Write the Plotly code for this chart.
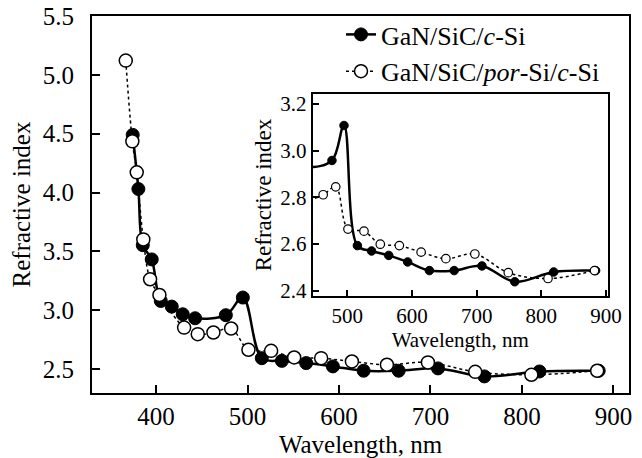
import plotly.graph_objects as go

# Data
wl_cSi = [374.5, 380.7, 385.5, 395.3, 405.2, 417.2, 429.2, 442.7, 476.3, 494.9,
          515.6, 537.5, 564.1, 593.3, 626.9, 665.2, 708.2, 758.9, 819.1, 883.9]
n_cSi = [4.49, 4.03, 3.553, 3.432, 3.079, 3.031, 2.966, 2.932, 2.958, 3.108,
         2.593, 2.570, 2.551, 2.523, 2.486, 2.486, 2.506, 2.438, 2.480, 2.486]

wl_por = [366.9, 374.1, 378.9, 386.1, 393.5, 403.7, 430.7, 445.6, 462.7, 482.1,
          501.0, 525.8, 551.0, 580.5, 614.1, 652.4, 697.2, 748.9, 810.3, 882.2]
n_por = [5.121, 4.435, 4.172, 3.602, 3.263, 3.130, 2.853, 2.797, 2.811, 2.845,
         2.664, 2.655, 2.599, 2.593, 2.565, 2.537, 2.557, 2.477, 2.452, 2.486]

name_cSi = "GaN/SiC/<i>c</i>-Si"
name_por = "GaN/SiC/<i>por</i>-Si/<i>c</i>-Si"

main_xticks = [400, 500, 600, 700, 800, 900]
main_yticks = [2.5, 3.0, 3.5, 4.0, 4.5, 5.0, 5.5]
inset_xticks = [500, 600, 700, 800, 900]
inset_yticks = [2.4, 2.6, 2.8, 3.0, 3.2]

INSET_XMIN, INSET_XMAX = 446.5, 902.6
INSET_YMIN, INSET_YMAX = 2.377, 3.243

FONT = "Liberation Serif"

fig = go.Figure()

# Main chart
fig.add_trace(go.Scatter(
    x=wl_cSi, y=n_cSi, name=name_cSi, mode="lines+markers",
    line=dict(color="black", width=2.5, shape="spline"),
    marker=dict(symbol="circle", size=13, color="black", line=dict(color="black", width=1)),
    legendgroup="a",
))
fig.add_trace(go.Scatter(
    x=wl_por, y=n_por, name=name_por, mode="lines+markers",
    line=dict(color="black", width=1.5, dash="dot", shape="spline"),
    marker=dict(symbol="circle", size=13, color="white", line=dict(color="black", width=1.5)),
    legendgroup="b",
))

# Inset: lines with all points, markers only for points inside the inset range
fig.add_trace(go.Scatter(
    x=wl_cSi, y=n_cSi, mode="lines", xaxis="x2", yaxis="y2", showlegend=False,
    line=dict(color="black", width=2.5, shape="spline"),
))
fig.add_trace(go.Scatter(
    x=wl_por, y=n_por, mode="lines", xaxis="x2", yaxis="y2", showlegend=False,
    line=dict(color="black", width=1.5, dash="dot", shape="spline"),
))
in_c = [(x, y) for x, y in zip(wl_cSi, n_cSi) if x >= INSET_XMIN + 5]
in_p = [(x, y) for x, y in zip(wl_por, n_por) if x >= INSET_XMIN + 5]
fig.add_trace(go.Scatter(
    x=[p[0] for p in in_c], y=[p[1] for p in in_c], mode="markers",
    xaxis="x2", yaxis="y2", showlegend=False,
    marker=dict(symbol="circle", size=8.5, color="black", line=dict(color="black", width=1)),
))
fig.add_trace(go.Scatter(
    x=[p[0] for p in in_p], y=[p[1] for p in in_p], mode="markers",
    xaxis="x2", yaxis="y2", showlegend=False,
    marker=dict(symbol="circle", size=8.5, color="white", line=dict(color="black", width=1.2)),
))

axis_common = dict(showline=True, linecolor="black", mirror=True, ticks="inside",
                   showgrid=False, zeroline=False, tickcolor="black", automargin=False)

W, H = 642, 458
ml, mr, mt, mb = 92, 13, 16, 65
pw, ph = W - ml - mr, H - mt - mb

def px2paperx(px):
    return (px - ml) / pw

def py2papery(py):
    return (H - mb - py) / ph

fig.update_layout(
    width=W, height=H,
    margin=dict(l=ml, r=mr, t=mt, b=mb, autoexpand=False),
    paper_bgcolor="white", plot_bgcolor="white",
    font=dict(family=FONT, size=25, color="black"),
    xaxis=dict(**axis_common, range=[330, 917], tickvals=main_xticks,
               linewidth=2, tickwidth=2, ticklen=8, ticklabelstandoff=0,
               tickfont=dict(size=25),
               title=dict(text="Wavelength, nm", font=dict(size=25), standoff=10)),
    yaxis=dict(**axis_common, range=[2.297, 5.5], tickvals=main_yticks, tickformat=".1f",
               linewidth=2, tickwidth=2, ticklen=8, ticklabelstandoff=11,
               tickfont=dict(size=25),
               title=dict(text="Refractive index", font=dict(size=25), standoff=5)),
    xaxis2=dict(**axis_common, domain=[px2paperx(312.7), px2paperx(607.7)], anchor="y2",
                range=[INSET_XMIN, INSET_XMAX], tickvals=inset_xticks,
                linewidth=2, tickwidth=1.5, ticklen=6, ticklabelstandoff=0,
                tickfont=dict(size=21),
                title=dict(text="Wavelength, nm", font=dict(size=21), standoff=0)),
    yaxis2=dict(**axis_common, domain=[py2papery(296), py2papery(94)], anchor="x2",
                range=[INSET_YMIN, INSET_YMAX], tickvals=inset_yticks, tickformat=".1f",
                linewidth=2, tickwidth=1.5, ticklen=6, ticklabelstandoff=0,
                tickfont=dict(size=21),
                title=dict(text="Refractive index", font=dict(size=23), standoff=2)),
    legend=dict(x=px2paperx(341), y=py2papery(11), xanchor="left", yanchor="top",
                bgcolor="rgba(0,0,0,0)", font=dict(size=26),
                traceorder="grouped", tracegroupgap=0),
    showlegend=True,
)

fig.write_html("out.html")
